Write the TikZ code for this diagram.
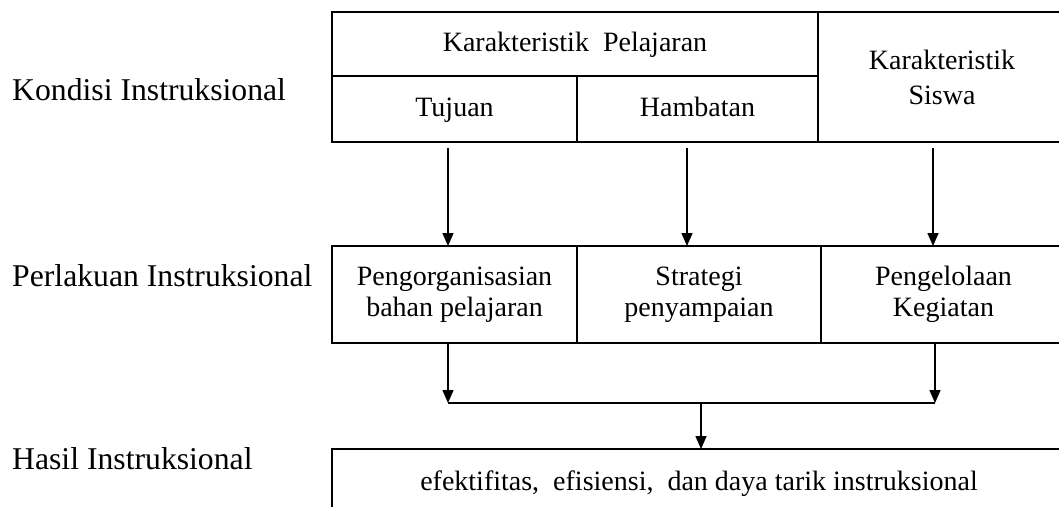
\documentclass[tikz,border=0pt]{standalone}
\usepackage{fontspec}
\setmainfont{Liberation Serif}
\usetikzlibrary{arrows.meta}
\begin{document}
\begin{tikzpicture}[x=1pt,y=1pt,
  cell/.style={draw, line width=1.8pt, inner sep=0pt, outer sep=0pt, anchor=north west,
    align=center, font=\fontsize{28}{31}\selectfont},
  onerow/.style={text height=21pt, text depth=6pt},
  lbl/.style={inner sep=0pt, anchor=base west, font=\fontsize{31.7}{36}\selectfont},
  arr/.style={line width=1.5pt, -{Triangle[width=11pt,length=13pt]}},
  conn/.style={line width=1.5pt}]
\clip (0,0) rectangle (1059,-506);
% left labels
\node[lbl] (kond) at (12,-100) {Kondisi Instruksional};
\node[lbl] (perl) at (12,-286) {Perlakuan Instruksional};
\node[lbl] (hasl) at (12,-469) {Hasil Instruksional};
% top table
\node[cell, onerow, minimum width=486pt, minimum height=64pt] (kp) at (332,-12) {Karakteristik\ \ Pelajaran};
\node[cell, onerow, minimum width=245pt, minimum height=66pt] (tuj) at (332,-76) {Tujuan};
\node[cell, onerow, minimum width=241pt, minimum height=66pt] (ham) at (577,-76) {Hambatan};
\node[cell, minimum width=248pt, minimum height=130pt] (ks) at (818,-12) {Karakteristik\\[4pt]Siswa};
% middle table
\node[cell, minimum width=245pt, minimum height=97pt] (peng) at (332,-246) {Pengorganisasian\\bahan pelajaran};
\node[cell, minimum width=244pt, minimum height=97pt] (strat) at (577,-246) {Strategi\\penyampaian};
\node[cell, minimum width=245pt, minimum height=97pt] (kel) at (821,-246) {Pengelolaan\\Kegiatan};
% bottom box
\node[cell, onerow, minimum width=734pt, minimum height=68pt] (hasil) at (332,-449) {efektifitas,\ \ efisiensi,\ \ dan daya tarik instruksional};
% connectors
\draw[arr] ([xshift=-6.5pt,yshift=-6pt]tuj.south) -- ([xshift=-6.5pt]peng.north);
\draw[arr] ([xshift=-10.5pt,yshift=-6pt]ham.south) -- ([xshift=-12pt]strat.north);
\draw[arr] ([xshift=-9pt,yshift=-6pt]ks.south) -- ([xshift=-10.5pt]kel.north);
\coordinate (jl) at (448,-403);
\coordinate (jr) at (935,-403);
\coordinate (jm) at (701,-403);
\draw[arr] ([xshift=-6.5pt]peng.south) -- (jl);
\draw[arr] ([xshift=-8.5pt]kel.south) -- (jr);
\draw[conn] (jl) -- (jr);
\draw[arr] (jm) -- ([xshift=2pt]hasil.north);
\end{tikzpicture}
\end{document}
